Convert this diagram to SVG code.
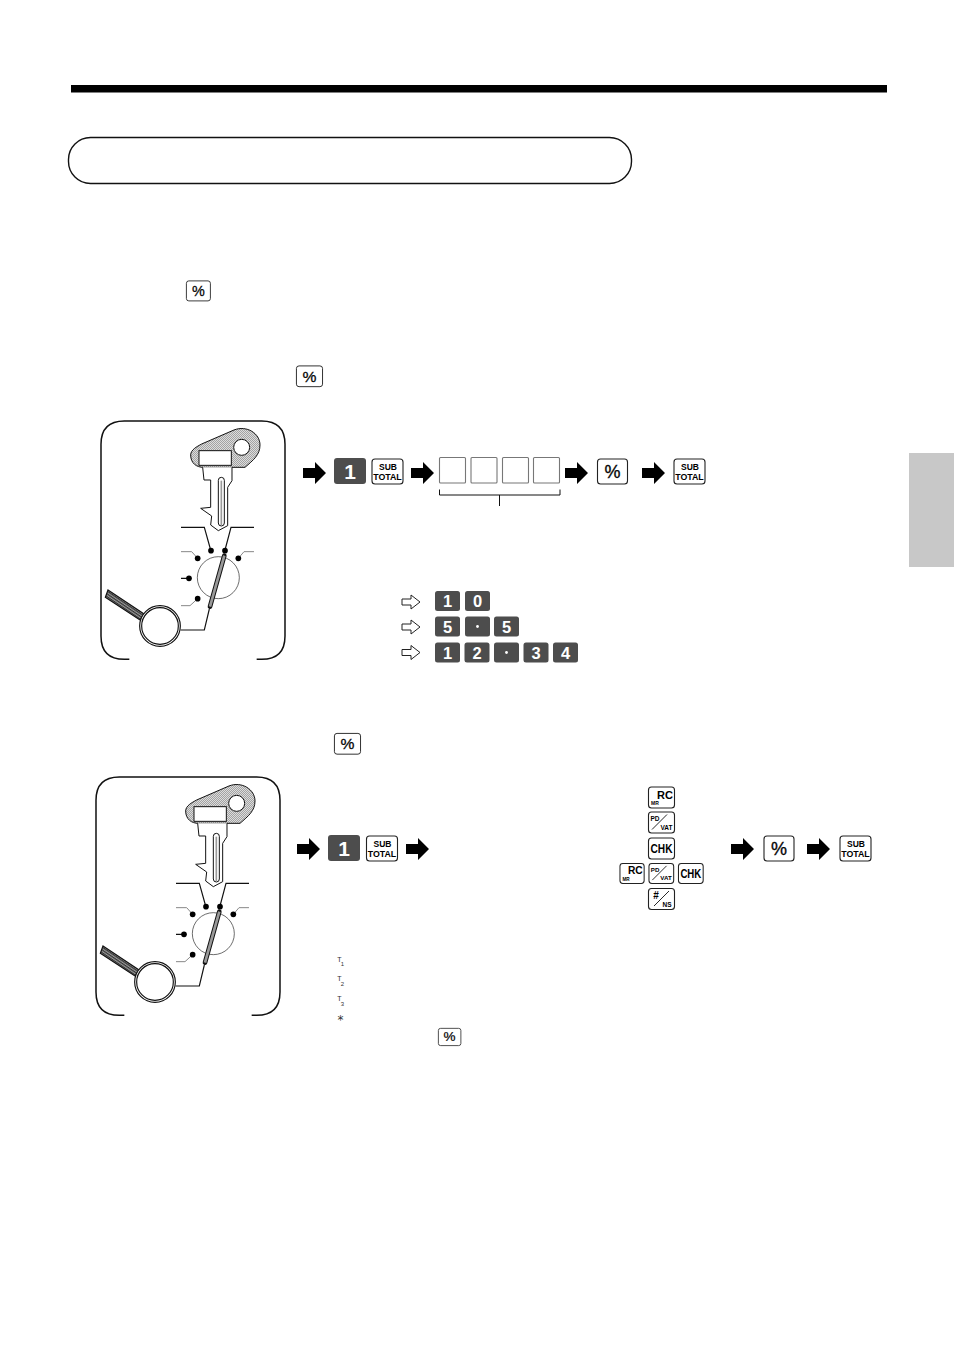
<svg xmlns="http://www.w3.org/2000/svg" width="954" height="1351" viewBox="0 0 954 1351">
<style>
text{font-family:"Liberation Sans",Arial,sans-serif;font-weight:bold;text-anchor:middle}
.k{fill:#fff;stroke:#222;stroke-width:1.1}
.d{fill:#4d4d4d}
.dt{fill:#fff;font-size:21px}
.ds{fill:#fff;font-size:16.5px}
.b{fill:#fff;stroke:#777;stroke-width:1.1}
.l{fill:none;stroke:#111;stroke-width:3.5}
.g{fill:none;stroke:#888;stroke-width:3}
.pn{fill:none;stroke:#111;stroke-width:1}
.note{font-weight:normal;fill:#333}
.pc{font-weight:normal;stroke:#111;stroke-width:.35}
</style>
<defs>
<pattern id="ht" width="6" height="6" patternUnits="userSpaceOnUse"><rect width="6" height="6" fill="#dcdcdc"/><rect width="3" height="3" fill="#a2a2a2"/><rect x="3" y="3" width="3" height="3" fill="#a2a2a2"/></pattern>
<pattern id="hh" width="12" height="7" patternUnits="userSpaceOnUse" patternTransform="rotate(34)"><rect width="12" height="7" fill="#999"/><rect width="12" height="3.5" fill="#333"/></pattern>
<path id="ar" d="M0-5H12V-11L23 0 12 11V5H0Z" fill="#000"/>
<path id="ha" d="M0-3H9V-7L18 0 9 7V3H0Z" fill="#fff" stroke="#222" stroke-width="1"/>
<g id="sub"><rect class="k" x=".5" y=".5" width="31" height="25" rx="3"/><text x="16.5" y="11.5" font-size="8.5">SUB</text><text x="16" y="21.5" font-size="8.8">TOTAL</text></g>
<g id="pct"><rect class="k" x=".5" y=".5" width="30" height="25" rx="3"/><text class="pc" x="15.5" y="19.5" font-size="18">%</text></g>
<g id="rc"><rect class="k" x=".5" y=".5" width="26" height="21" rx="3"/><text x="17" y="12" font-size="11">RC</text><text x="7" y="18.5" font-size="5">MR</text></g>
<g id="pd"><rect class="k" x=".5" y=".5" width="26" height="21" rx="3"/><path d="M4 18 19 3" fill="none" stroke="#111" stroke-width=".9"/><text x="7" y="9.5" font-size="6.5">PD</text><text x="18.5" y="18" font-size="6.5">VAT</text></g>
<g id="chk"><rect class="k" x=".5" y=".5" width="26" height="21" rx="3"/><text x="13.5" y="15.5" font-size="12.5" textLength="22" lengthAdjust="spacingAndGlyphs">CHK</text></g>
<g id="ill" transform="translate(90 410) scale(.33333)">
<path d="M118 748H103Q33 748 33 678V103Q33 33 103 33H515Q585 33 585 103V678Q585 748 515 748H500" fill="none" stroke="#111" stroke-width="4.5"/>
<path d="M302 135C302 120 320 110 335 102L432 60C470 45 510 70 510 105 510 135 490 150 465 172H340C320 172 302 160 302 135Z" fill="url(#ht)" stroke="#111" stroke-width="3"/>
<circle cx="455" cy="112" r="24" fill="#fff" stroke="#111" stroke-width="3"/>
<rect x="327" y="122" width="97" height="44" fill="#fff" stroke="#111" stroke-width="3"/>
<path d="M338 172 342 210H362V292L332 295 365 318 362 345 385 362 413 347V232L426 212V172" fill="#fff" stroke="#111" stroke-width="3"/>
<rect x="385" y="202" width="18" height="146" rx="9" fill="#fff" stroke="#111" stroke-width="3"/>
<path d="M394 212V345" stroke="#999" stroke-width="5"/>
<path class="l" d="M273 352H343L362 420M492 352H423L405 420M273 505H297"/>
<path class="g" d="M273 425H305L323 445M492 425H462L445 445M273 587H300L323 566"/>
<circle cx="385" cy="503" r="63" fill="none" stroke="#222" stroke-width="2"/>
<circle cx="363" cy="422" r="8.5"/><circle cx="405" cy="422" r="8.5"/><circle cx="323" cy="445" r="8.5"/><circle cx="445" cy="445" r="8.5"/><circle cx="297" cy="505" r="8.5"/><circle cx="323" cy="566" r="8.5"/>
<path d="M403 437 360 590" stroke="#111" stroke-width="14" stroke-linecap="round"/>
<path d="M403 437 360 590" stroke="#999" stroke-width="8"/>
<path class="l" d="M358 597 343 660H272"/>
<path d="M54 540 162 612 150 630 46 562Z" fill="url(#hh)" stroke="#111" stroke-width="3.5"/>
<circle cx="210" cy="648" r="61" fill="#fff" stroke="#111" stroke-width="3.5"/>
<circle cx="210" cy="648" r="55" fill="#fff" stroke="#111" stroke-width="3.5"/>
</g>
</defs>

<g id="header">
<rect x="71" y="85" width="816" height="7.5" fill="#000"/>
<rect x="68.5" y="137.5" width="563" height="46" rx="22" fill="#fff" stroke="#111" stroke-width="1.4"/>
<rect x="909" y="453" width="45" height="114" fill="#c8c8c8"/>
</g>
<g id="pct-inline-1"><use href="#pct" transform="translate(186 280.5) scale(.8 .8)"/></g>
<g id="pct-inline-2"><use href="#pct" transform="translate(296 365.5) scale(.87 .83)"/></g>
<g id="pct-inline-3"><use href="#pct" transform="translate(334 733) scale(.87 .83)"/></g>
<g id="pct-inline-4"><use href="#pct" transform="translate(438 1028) scale(.75 .69)"/></g>

<g id="panel-1"><use href="#ill"/></g>
<g id="panel-2"><use href="#ill" transform="translate(-5 356)"/></g>

<g id="connectors">
<use href="#ar" x="303" y="473"/><use href="#ar" x="411" y="473"/><use href="#ar" x="565" y="473"/><use href="#ar" x="642" y="473"/>
<use href="#ar" x="297" y="849"/><use href="#ar" x="406" y="849"/><use href="#ar" x="731" y="849"/><use href="#ar" x="807" y="849"/>
<use href="#ha" x="402" y="602"/><use href="#ha" x="402" y="627"/><use href="#ha" x="402" y="652.5"/>
<path class="pn" d="M439.5 489.5V495H560V489.5M499.5 495V506"/>
</g>

<g id="sequence-1">
<rect class="d" x="334" y="458" width="32" height="26" rx="3"/><text class="dt" x="350" y="478.5">1</text>
<use href="#sub" x="371.5" y="458.5"/>
<rect class="b" x="439.5" y="457.5" width="26" height="25.5" rx="1"/><rect class="b" x="471" y="457.5" width="26" height="25.5" rx="1"/><rect class="b" x="502.5" y="457.5" width="26" height="25.5" rx="1"/><rect class="b" x="533.5" y="457.5" width="26" height="25.5" rx="1"/>
<use href="#pct" x="597" y="458.5"/>
<use href="#sub" x="673.5" y="458.5"/>
</g>

<g id="examples">
<rect class="d" x="435" y="591" width="25" height="20" rx="2.5"/><text class="ds" x="447.5" y="607">1</text>
<rect class="d" x="465" y="591" width="25" height="20" rx="2.5"/><text class="ds" x="477.5" y="607">0</text>
<rect class="d" x="435" y="616.5" width="25" height="20" rx="2.5"/><text class="ds" x="447.5" y="632.5">5</text>
<rect class="d" x="465" y="616.5" width="25" height="20" rx="2.5"/><circle cx="477.5" cy="626.5" r="1.4" fill="#fff"/>
<rect class="d" x="494" y="616.5" width="25" height="20" rx="2.5"/><text class="ds" x="506.5" y="632.5">5</text>
<rect class="d" x="435" y="642.5" width="25" height="20" rx="2.5"/><text class="ds" x="447.5" y="658.5">1</text>
<rect class="d" x="464.5" y="642.5" width="25" height="20" rx="2.5"/><text class="ds" x="477" y="658.5">2</text>
<rect class="d" x="494" y="642.5" width="25" height="20" rx="2.5"/><circle cx="506.5" cy="652.5" r="1.4" fill="#fff"/>
<rect class="d" x="523.5" y="642.5" width="25" height="20" rx="2.5"/><text class="ds" x="536" y="658.5">3</text>
<rect class="d" x="553" y="642.5" width="25" height="20" rx="2.5"/><text class="ds" x="565.5" y="658.5">4</text>
</g>

<g id="sequence-2">
<rect class="d" x="328" y="835" width="32" height="26" rx="3"/><text class="dt" x="344" y="855.5">1</text>
<use href="#sub" x="366" y="835.5"/>
<use href="#rc" x="648" y="786.5"/>
<use href="#pd" x="648" y="811.5"/>
<use href="#chk" x="648" y="837.5"/>
<use href="#rc" transform="translate(619.5 863) scale(.93 .95)"/>
<use href="#pd" transform="translate(648.5 863) scale(.95 .95)"/>
<use href="#chk" transform="translate(678 863) scale(.95 .95)"/>
<g transform="translate(648 888)"><rect class="k" x=".5" y=".5" width="26" height="21" rx="3"/><path d="M6 18 21 3" fill="none" stroke="#111" stroke-width=".9"/><text x="8" y="11" font-size="10">#</text><text x="19" y="18.5" font-size="6.5">NS</text></g>
<use href="#pct" x="763.5" y="835.5"/>
<use href="#sub" x="839.5" y="835.5"/>
</g>

<g id="notes">
<text class="note" x="339.5" y="962" font-size="7">T</text><text class="note" x="342.5" y="965.5" font-size="6">1</text>
<text class="note" x="339.5" y="981" font-size="7">T</text><text class="note" x="342.5" y="985.5" font-size="6">2</text>
<text class="note" x="339.5" y="1001" font-size="7">T</text><text class="note" x="342.5" y="1005.5" font-size="6">3</text>
<text class="note" x="340.5" y="1024" font-size="12" style="font-family:'DejaVu Sans',sans-serif">*</text>
</g>
</svg>
